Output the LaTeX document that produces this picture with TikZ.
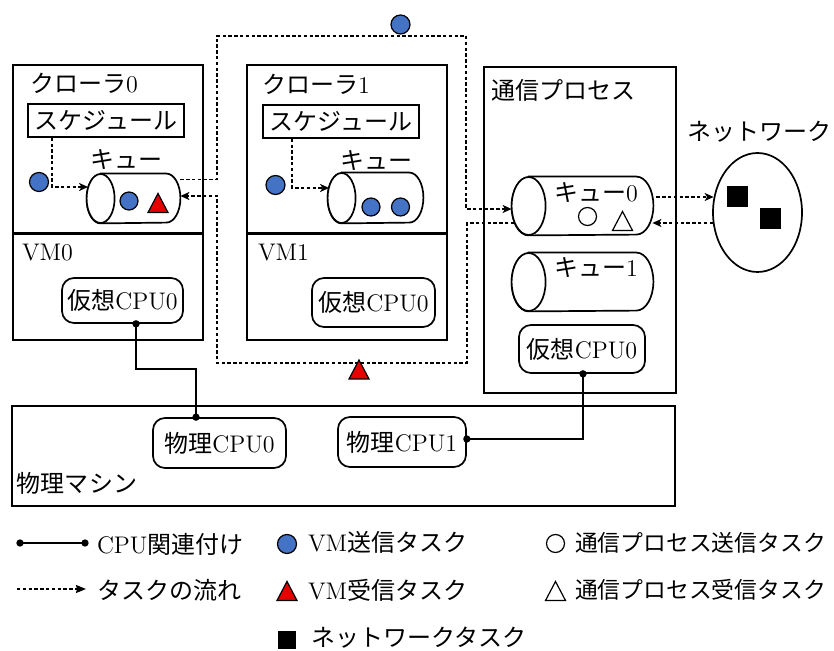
\documentclass[tikz,border=0pt]{standalone}
\usepackage{fontspec}
\newfontfamily\jp{Noto Sans CJK JP}
\usetikzlibrary{arrows.meta,shapes.geometric,calc}
\definecolor{vmblue}{HTML}{4472C4}
\definecolor{vmred}{HTML}{E60000}
\newcommand\mycyl[3]{%
  \draw[cylline, fill=white] ([xshift=#2]#1.north west) -- ([xshift=-#2]#1.north east)
    arc[start angle=90, end angle=-90, x radius=#2, y radius=#3]
    -- ([xshift=#2]#1.south west)
    arc[start angle=270, end angle=90, x radius=#2, y radius=#3] -- cycle;
  \draw[cylline, fill=white] ([xshift=#2]#1.west) ellipse[x radius=#2, y radius=#3];
}
\newcommand\mytri[3]{\draw[line width=0.6pt, fill=#1] (#2,#3) ++(0,-9.5) -- ++(10,19) -- ++(-20,0) -- cycle;}
\tikzset{
  box/.style={draw, line width=1pt},
  txt/.style={inner sep=0pt, outer sep=0pt},
  sched/.style={draw, line width=0.8pt, minimum width=78pt, minimum height=16.5pt, inner sep=0pt},
  cpu/.style={draw, line width=0.85pt, rounded corners=6pt, inner sep=0pt},
  flow/.style={line width=0.75pt, dash pattern=on 1.7pt off 1.2pt, -{Stealth[length=4.5pt,width=4pt,inset=1.2pt]}},
  cpul/.style={line width=0.8pt, {Circle[length=3.6pt]}-{Circle[length=3.6pt]}, shorten <=-1.8pt, shorten >=-1.8pt},
  bdot/.style={circle, draw, line width=0.6pt, fill=vmblue, minimum size=9.5pt, inner sep=0pt},
  odot/.style={circle, draw, line width=0.6pt, fill=white, minimum size=9pt, inner sep=0pt},
  qanchor/.style={rectangle, draw=none, inner sep=0pt},
  cylline/.style={line width=0.85pt}
}
\begin{document}
\begin{tikzpicture}[x=0.5pt, y=-0.5pt, font=\fontsize{12}{14}\selectfont]
\useasboundingbox (0,0) rectangle (834,651);

% crawler 0 / VM0
\draw[box] (13,65) rectangle (203,340);
\draw[line width=1.5pt] (13,234) -- (203,234);
\node[txt, anchor=west] (tc0) at (30,83) {{\jp クローラ}0};
\node[sched] (sched0) at (106,120.5) {\jp スケジュール};
\node[txt] (tq0) at (126,160) {\jp キュー};
\node[qanchor, minimum width=46.5pt, minimum height=24.5pt] (cq0) at (133.5,198.5) {};
\mycyl{cq0}{7pt}{12.25pt}
\node[bdot] (b1) at (39,182) {};
\node[bdot, minimum size=9pt] (b2) at (129,201) {};
\mytri{vmred}{158}{203}
\draw[flow] ($(sched0.south west)+(25,0)$) |- ($(cq0.west)+(1.5,-11.5)$);
\node[txt, anchor=west] (tvm0) at (22,253) {VM0};
\node[cpu, minimum width=60.5pt, minimum height=22.5pt] (vcpu0) at (122.5,300.5) {{\jp 仮想}CPU0};

% crawler 1 / VM1
\draw[box] (247,65) rectangle (447,340);
\draw[line width=1.5pt] (247,234) -- (447,234);
\node[txt, anchor=west] (tc1) at (262,84) {{\jp クローラ}1};
\node[sched] (sched1) at (341,121.5) {\jp スケジュール};
\node[txt] (tq1) at (376,161) {\jp キュー};
\node[qanchor, minimum width=47.5pt, minimum height=25pt] (cq1) at (375.5,198) {};
\mycyl{cq1}{7pt}{12.5pt}
\node[bdot] (b3) at (275.5,185) {};
\node[bdot, minimum size=9pt] (b4) at (371,207) {};
\node[bdot, minimum size=9pt] (b5) at (400.5,207) {};
\draw[flow] ($(sched1.south west)+(30,0)$) |- ($(cq1.west)+(1.5,-10)$);
\node[txt, anchor=west] (tvm1) at (258,253) {VM1};
\node[cpu, minimum width=61.5pt, minimum height=24.5pt] (vcpu1) at (373.5,302.5) {{\jp 仮想}CPU0};

% communication process
\draw[box] (484,67) rectangle (676,393);
\node[txt, anchor=west] (tcomm) at (491,90) {\jp 通信プロセス};
\node[qanchor, minimum width=70.5pt, minimum height=29pt] (q0) at (582.5,206) {};
\mycyl{q0}{8.5pt}{14.5pt}
\node[txt] (tcq0) at (596,193) {{\jp キュー}0};
\node[odot] (o1) at (587.5,216.5) {};
\mytri{white}{622.5}{221}
\node[qanchor, minimum width=70.5pt, minimum height=29pt] (q1) at (582.5,282) {};
\mycyl{q1}{8.5pt}{14.5pt}
\node[txt] (tcq1) at (596,268) {{\jp キュー}1};
\node[cpu, minimum width=63pt, minimum height=24pt] (ccpu) at (582,349) {{\jp 仮想}CPU0};

% network
\node[txt] (tnet) at (759,132) {\jp ネットワーク};
\node[draw, ellipse, line width=0.85pt, fill=white, minimum width=44.5pt, minimum height=59.5pt, inner sep=0pt] (net) at (757.5,212.5) {};
\fill (727,186) rectangle (748,207);
\fill (760,208) rectangle (781,229);
\draw[flow] ($(q0.east)+(3,-9)$) -- ($(net.west)+(1.5,-15.5)$);
\draw[flow] ($(net.west)+(0.8,10.5)$) -- ($(q0.east)+(-1,17)$);

% task flows between crawlers and communication process
\draw[flow] ($(cq0.east)+(0,-19)$) -- (217,179.5) -- (217,36) -- (466,36) -- (466,209) -- ($(q0.west)+(0,3)$);
\draw[flow] ($(q0.west)+(2.5,17)$) -- (467,223) -- (467,363) -- (217,363) -- (217,196) -- ($(cq0.east)+(0,-2.5)$);
\node[bdot] (btop) at (400.5,24.5) {};
\mytri{vmred}{359}{369.5}

% physical machine
\draw[box] (12,406) rectangle (675,506);
\node[cpu, minimum width=66.5pt, minimum height=25pt] (pcpu0) at (219.5,443) {{\jp 物理}CPU0};
\node[cpu, minimum width=64pt, minimum height=25pt] (pcpu1) at (402,442) {{\jp 物理}CPU1};
\node[txt, anchor=west] (tpm) at (17,483) {\jp 物理マシン};
\draw[cpul] ($(vcpu0.south)+(13.5,0)$) -- ++(0,45) -| ($(pcpu0.north)+(-23.5,0)$);
\draw[cpul] ($(ccpu.south)+(1,0)$) |- ($(pcpu1.east)+(0,-3)$);

% legend
\coordinate (l1a) at (20,543);
\coordinate (l1b) at (85,543);
\draw[cpul] (l1a) -- (l1b);
\node[txt, anchor=west] (lg1) at (97,544) {CPU{\jp 関連付け}};
\coordinate (l2a) at (17,589);
\coordinate (l2b) at (86,589);
\draw[line width=0.75pt, dash pattern=on 1.7pt off 1.2pt, -{Stealth[length=5pt,width=4pt,inset=0.5pt]}] (l2a) -- (l2b);
\node[txt, anchor=west] (lg2) at (97,590) {\jp タスクの流れ};
\node[bdot] (lgb) at (287,544) {};
\node[txt, anchor=west] (lg3) at (308,542) {VM{\jp 送信タスク}};
\mytri{vmred}{287}{591}
\node[txt, anchor=west] (lg4) at (308,590) {VM{\jp 受信タスク}};
\fill (278,631) rectangle (296,649);
\node[txt, anchor=west] (lg5) at (311,638) {\jp ネットワークタスク};
\node[odot] (lgo) at (555.5,543.5) {};
\node[txt, anchor=west, font=\fontsize{11.4}{13}\selectfont] (lg6) at (575,543) {\jp 通信プロセス送信タスク};
\mytri{white}{555.5}{591}
\node[txt, anchor=west, font=\fontsize{11.4}{13}\selectfont] (lg7) at (575,590) {\jp 通信プロセス受信タスク};
\end{tikzpicture}
\end{document}
